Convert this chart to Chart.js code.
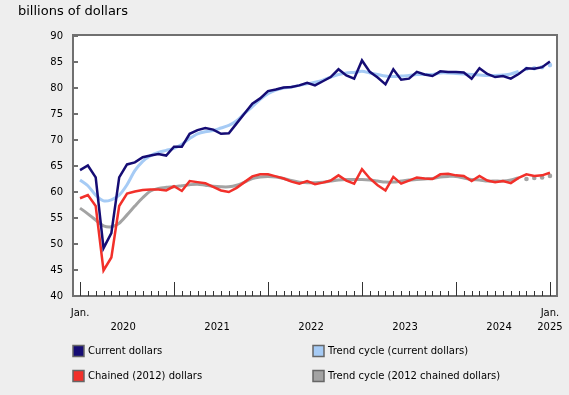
<!DOCTYPE html>
<html>
<head>
<meta charset="utf-8">
<script src="https://cdn.jsdelivr.net/npm/chart.js@4.4.1/dist/chart.umd.min.js"></script>
<style>
html,body{margin:0;padding:0;background:#eeeeee;}
#wrap{width:569px;height:395px;position:relative;}
</style>
</head>
<body>
<div id="wrap"><canvas id="c" width="569" height="395"></canvas></div>
<script>
// ---- data (monthly, Jan 2020 .. Jan 2025) ----
const months = Array.from({length: 61}, (_, i) => i); // month index from Jan 2020
const yearLabels = ["2020", "2021", "2022", "2023", "2024"];
const yTicks = [40, 45, 50, 55, 60, 65, 70, 75, 80, 85, 90];
const legendLabels = ["Current dollars", "Trend cycle (current dollars)", "Chained (2012) dollars", "Trend cycle (2012 chained dollars)"];

const currentDollars = [64.2,65.1,62.8,49.2,52.1,62.8,65.3,65.7,66.7,67.0,67.3,67.0,68.7,68.7,71.2,
  71.9,72.3,72.0,71.2,71.3,73.2,75.1,77.0,78.0,79.4,79.7,80.1,80.2,80.5,81.0,80.5,
  81.3,82.1,83.6,82.4,81.8,85.3,83.1,82.0,80.7,83.6,81.6,81.8,83.1,82.6,82.3,
  83.2,83.1,83.1,83.0,81.8,83.8,82.7,82.1,82.3,81.8,82.7,83.8,83.7,84.0,85.1];
const trendCurrent = [62.3,61.2,59.4,58.3,58.5,59.4,61.4,64.1,65.9,67.0,67.6,68.0,68.4,69.2,70.3,
  71.2,71.6,71.8,72.3,72.8,73.7,75.1,76.4,77.8,78.9,79.6,80.0,80.2,80.5,80.8,81.1,
  81.5,82.1,82.6,82.9,83.0,83.2,82.9,82.6,82.3,82.2,82.3,82.4,82.6,82.6,82.6,
  82.9,82.9,82.8,82.7,82.6,82.5,82.4,82.4,82.5,82.7,83.2,83.7,83.8,84.0,84.4];
const chainedDollars = [58.8,59.4,57.3,44.9,47.4,57.3,59.7,60.1,60.4,60.5,60.5,60.3,61.1,60.2,62.1,
  61.9,61.7,61.0,60.3,60.0,60.8,61.9,63.0,63.4,63.4,63.0,62.6,62.0,61.6,62.1,61.5,
  61.8,62.2,63.2,62.2,61.6,64.4,62.6,61.3,60.3,62.9,61.6,62.2,62.8,62.6,62.5,
  63.4,63.5,63.2,63.1,62.1,63.1,62.2,61.9,62.1,61.7,62.7,63.4,63.1,63.2,63.7];
const trendChained = [56.9,55.8,54.6,53.5,53.3,54.0,55.6,57.3,58.9,60.2,60.7,60.9,61.0,61.2,61.4,
  61.5,61.3,61.1,61.0,61.0,61.3,61.9,62.6,62.9,63.0,62.9,62.6,62.2,61.9,61.8,61.8,
  61.9,62.1,62.3,62.4,62.4,62.4,62.3,62.1,61.9,61.9,62.1,62.3,62.4,62.5,62.6,
  62.9,63.0,63.0,62.7,62.4,62.3,62.1,62.1,62.1,62.3,62.7,62.5,62.7,62.8,63.1];

const colNavy = "#150c74";
const colLight = "#a6cbf5";
const colRed = "#f2302a";
const colGray = "#a3a3a3";
const FONT = "DejaVu Sans";
const TAIL = 56; // trend values after this index shown as dots only

function pts(arr){ return arr.map((v, i) => ({x: months[i], y: v})); }

function trendDs(label, data, color, order){
  return {
    label, data: pts(data), borderColor: color, backgroundColor: color,
    borderWidth: 3, tension: 0.3, order,
    pointRadius: ctx => ctx.dataIndex > TAIL ? 2.3 : 0,
    pointBorderWidth: 0, pointHoverRadius: 0,
    segment: { borderColor: ctx => ctx.p0DataIndex >= TAIL ? 'rgba(0,0,0,0)' : color }
  };
}
function mainDs(label, data, color, order){
  return { label, data: pts(data), borderColor: color, backgroundColor: color,
    borderWidth: 2.5, pointRadius: 0, tension: 0, order };
}

const decor = {
  id: 'decor',
  beforeDraw(chart){
    const {ctx, chartArea: a} = chart;
    ctx.save();
    ctx.fillStyle = '#eeeeee';
    ctx.fillRect(0, 0, chart.width, chart.height);
    ctx.fillStyle = '#ffffff';
    ctx.fillRect(a.left, a.top, a.right - a.left, a.bottom - a.top);
    ctx.restore();
  },
  afterDraw(chart){
    const {ctx, chartArea: a, scales} = chart;
    const xs = scales.x, ys = scales.y;
    ctx.save();
    // border
    ctx.strokeStyle = '#707070';
    ctx.lineWidth = 2;
    ctx.strokeRect(a.left - 1, a.top - 1, a.right - a.left + 1, a.bottom - a.top + 1);
    // y ticks inside
    ctx.strokeStyle = '#707070';
    ctx.lineWidth = 2;
    yTicks.forEach(v => {
      const y = Math.round(ys.getPixelForValue(v));
      ctx.beginPath(); ctx.moveTo(a.left, y); ctx.lineTo(a.left + 4, y); ctx.stroke();
    });
    // x ticks inside
    ctx.strokeStyle = '#333333';
    ctx.lineWidth = 1;
    months.forEach(m => {
      const x = Math.round(xs.getPixelForValue(m)) + 0.5;
      const len = (m % 12 === 0) ? 14 : 5;
      ctx.beginPath(); ctx.moveTo(x, a.bottom); ctx.lineTo(x, a.bottom - len); ctx.stroke();
    });
    // x labels
    ctx.fillStyle = '#000';
    ctx.font = '10px "' + FONT + '"';
    ctx.textAlign = 'center';
    ctx.textBaseline = 'middle';
    ctx.fillText('Jan.', xs.getPixelForValue(0), 313);
    ctx.fillText('Jan.', xs.getPixelForValue(60), 313);
    ctx.fillText('2025', xs.getPixelForValue(60), 327);
    yearLabels.forEach((t, k) => {
      ctx.fillText(t, xs.getPixelForValue(k * 12 + 5.5), 327);
    });
    // title
    ctx.textAlign = 'left';
    ctx.font = '13px "' + FONT + '"';
    ctx.fillText('billions of dollars', 18, 12);
    // legend
    const cols = [colNavy, colLight, colRed, colGray];
    const pos = [[73, 351], [313, 351], [73, 376], [313, 376]];
    ctx.font = '10px "' + FONT + '"';
    legendLabels.forEach((t, k) => {
      const [x, y] = pos[k];
      ctx.fillStyle = cols[k];
      ctx.fillRect(x, y - 5.5, 11, 11);
      ctx.strokeStyle = '#666666';
      ctx.lineWidth = 1.5;
      ctx.strokeRect(x, y - 5.5, 11, 11);
      ctx.fillStyle = '#000';
      ctx.fillText(t, x + 15, y + 0.5);
    });
    ctx.restore();
  }
};

new Chart(document.getElementById('c'), {
  type: 'line',
  data: {
    datasets: [
      mainDs(legendLabels[0], currentDollars, colNavy, 1),
      trendDs(legendLabels[1], trendCurrent, colLight, 2),
      mainDs(legendLabels[2], chainedDollars, colRed, 3),
      trendDs(legendLabels[3], trendChained, colGray, 4)
    ]
  },
  options: {
    responsive: false,
    devicePixelRatio: 1,
    animation: false,
    layout: { padding: { top: 36, left: 0, right: 12, bottom: 99 } },
    plugins: { legend: { display: false }, tooltip: { enabled: false }, title: { display: false } },
    scales: {
      x: {
        type: 'linear', min: -0.77, max: 60.9, display: false
      },
      y: {
        min: 40, max: 90,
        afterFit(scale){ scale.width = 74; },
        ticks: { stepSize: 5, color: '#000', font: { family: FONT, size: 10 }, padding: 11 },
        grid: { display: false, drawTicks: false },
        border: { display: false }
      }
    }
  },
  plugins: [decor]
});
</script>
</body>
</html>
